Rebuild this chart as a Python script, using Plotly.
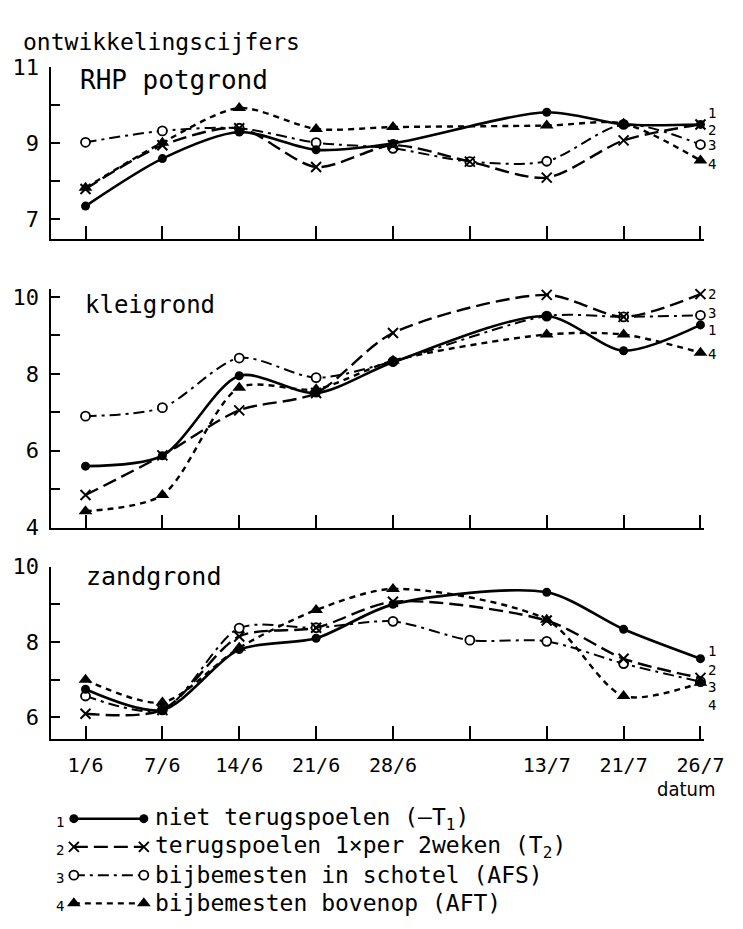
import plotly.graph_objects as go

# ---------------- data ----------------
dates = ['1/6', '7/6', '14/6', '21/6', '28/6', '', '13/7', '21/7', '26/7']
xi = list(range(len(dates)))

series_names = ['niet terugspoelen (–T<sub>1</sub>)',
                'terugspoelen 1×per 2weken (T<sub>2</sub>)',
                'bijbemesten in schotel (AFS)',
                'bijbemesten bovenop (AFT)']
series_nums = ['1', '2', '3', '4']

panel_names = ['RHP potgrond', 'kleigrond', 'zandgrond']

rhp_t1 = [7.35, 8.6, 9.3, 8.83, 9.0, None, 9.82, 9.5, 9.5]
rhp_t2 = [7.8, 8.95, 9.4, 8.38, 8.95, 8.52, 8.1, 9.08, 9.5]
rhp_afs = [9.03, 9.33, 9.4, 9.02, 8.87, 8.52, 8.53, 9.5, 8.97]
rhp_aft = [7.83, 9.02, 9.93, 9.38, 9.43, None, 9.47, 9.52, 8.55]

klei_t1 = [5.6, 5.87, 7.95, 7.5, 8.3, None, 9.5, 8.6, 9.27]
klei_t2 = [4.85, 5.88, 7.05, 7.5, 9.06, None, 10.05, 9.48, 10.07]
klei_afs = [6.9, 7.12, 8.41, 7.9, 8.32, None, 9.5, 9.48, 9.52]
klei_aft = [4.43, 4.85, 7.64, 7.6, 8.34, None, 9.02, 9.02, 8.55]

zand_t1 = [6.75, 6.2, 7.8, 8.1, 9.0, None, 9.32, 8.34, 7.56]
zand_t2 = [6.1, 6.2, 8.15, 8.38, 9.07, None, 8.57, 7.56, 7.05]
zand_afs = [6.57, 6.2, 8.37, 8.38, 8.55, 8.05, 8.02, 7.43, 6.95]
zand_aft = [7.0, 6.4, 7.85, 8.85, 9.41, None, 8.59, 6.57, 6.92]

panels = [
    [rhp_t1, rhp_t2, rhp_afs, rhp_aft],
    [klei_t1, klei_t2, klei_afs, klei_aft],
    [zand_t1, zand_t2, zand_afs, zand_aft],
]

# y-axis settings per panel
y_ranges = [[6.49, 11.0], [4.0, 10.2], [5.44, 10.0]]
y_tickvals = [[7, 8, 9, 10, 11], [4, 5, 6, 7, 8, 9, 10], [6, 7, 8, 9, 10]]
y_ticktext = [['7', '', '9', '', '11'], ['4', '', '6', '', '8', '', '10'], ['6', '', '8', '', '10']]

# end-number labels (value position next to last point)
end_label_y = [[9.8, 9.36, 8.95, 8.46], [9.14, 10.07, 9.59, 8.51], [7.76, 7.27, 6.8, 6.33]]

# ---------------- layout helpers ----------------
W, H = 743, 929
def px(x):
    return x / W
def py(y):
    return min(1.0, max(0.0, 1 - y / H))

FONT = 'DejaVu Sans Mono, Liberation Mono, monospace'
NARROW = 'Liberation Sans Narrow, DejaVu Sans Condensed, DejaVu Sans Mono, monospace'

styles = [
    dict(line=dict(color='black', width=2.6, dash='solid'),
         marker=dict(symbol='circle', size=9, color='black')),
    dict(line=dict(color='black', width=2.4, dash='14px,6px'),
         marker=dict(symbol='x-thin', size=10, color='black', line=dict(color='black', width=2))),
    dict(line=dict(color='black', width=2.0, dash='11px,5px,3px,5px'),
         marker=dict(symbol='circle', size=9, color='white', line=dict(color='black', width=1.8))),
    dict(line=dict(color='black', width=2.4, dash='6px,5px'),
         marker=dict(symbol='triangle-up', size=12, color='black')),
]

# pixel positions (top, bottom) of each panel's plotting area
panel_px = [(57, 233), (284.8, 530), (570, 746.7)]
label_px = [(80, 70), (85, 301), (86, 580)]
label_size = [26, 24, 25]

fig = go.Figure()

draw_order = [2, 1, 3, 0]
for p, pdata in enumerate(panels):
    ax = '' if p == 0 else str(p + 1)
    for s in draw_order:
        st = styles[s]
        fig.add_trace(go.Scatter(
            x=xi, y=pdata[s], mode='lines+markers',
            line=dict(st['line'], shape='spline', smoothing=0.8),
            marker=st['marker'], connectgaps=True, cliponaxis=False,
            xaxis='x' + ax, yaxis='y' + ax, showlegend=False, hoverinfo='skip'))

# legend keys on a hidden axis
key_x = [0, 1]
for s in range(4):
    st = styles[s]
    fig.add_trace(go.Scatter(
        x=key_x, y=[s, s], mode='lines+markers',
        line=st['line'], marker=st['marker'], cliponaxis=False,
        xaxis='x4', yaxis='y4', showlegend=False, hoverinfo='skip'))

layout = dict(
    width=W, height=H, margin=dict(l=0, r=0, t=0, b=0),
    paper_bgcolor='white', plot_bgcolor='white',
    font=dict(family=FONT, color='black', size=20),
    showlegend=False,
)

for p in range(3):
    ax = '' if p == 0 else str(p + 1)
    top, bot = panel_px[p]
    layout['xaxis' + ax] = dict(
        domain=[px(52), px(724)], range=[-0.455, 8.04], anchor='y' + ax,
        showline=True, linecolor='black', linewidth=2.2, mirror=False,
        ticks='inside', ticklen=13, tickwidth=2, tickcolor='black',
        tickmode='array', tickvals=xi, ticktext=dates,
        showticklabels=(p == 2), tickfont=dict(family=FONT, size=20),
        ticklabelstandoff=7, ticklabeloverflow='allow',
        showgrid=False, zeroline=False, fixedrange=True)
    layout['yaxis' + ax] = dict(
        domain=[py(bot), py(top)], range=y_ranges[p], anchor='x' + ax,
        showline=True, linecolor='black', linewidth=2.2,
        ticks='inside', ticklen=9, tickwidth=2, tickcolor='black',
        tickmode='array', tickvals=y_tickvals[p], ticktext=y_ticktext[p],
        tickfont=dict(family=FONT, size=22), ticklabelstandoff=5,
        showgrid=False, zeroline=False, fixedrange=True)

# legend key area: rows ROW_DY px apart, first row at y=ROW0 px
ROW0, ROW_DY = 829, 29
layout['xaxis4'] = dict(domain=[px(76), px(148)], range=[0, 1], anchor='y4', visible=False, fixedrange=True)
layout['yaxis4'] = dict(domain=[0, py(ROW0 - 0.5 * ROW_DY)], range=[(929 - ROW0) / ROW_DY, -0.5], anchor='x4',
                        visible=False, fixedrange=True)

annotations = []
annotations.append(dict(text='ontwikkelingscijfers', x=px(22), y=py(31), xref='paper', yref='paper',
                        xanchor='left', yanchor='middle', showarrow=False, font=dict(family=FONT, size=23)))
for p in range(3):
    lx, ly = label_px[p]
    annotations.append(dict(text=panel_names[p], x=px(lx), y=py(ly), xref='paper', yref='paper',
                            xanchor='left', yanchor='middle', showarrow=False,
                            font=dict(family=FONT, size=label_size[p])))
    ax = '' if p == 0 else str(p + 1)
    for s in range(4):
        annotations.append(dict(text=series_nums[s], x=px(727), y=end_label_y[p][s], xref='paper', yref='y' + ax,
                                xanchor='left', yanchor='middle', showarrow=False, font=dict(family=FONT, size=14)))
annotations.append(dict(text='datum', x=px(738), y=py(798), xref='paper', yref='paper',
                        xanchor='right', yanchor='middle', showarrow=False, font=dict(family=NARROW, size=20)))
for s in range(4):
    yrow = ROW0 + ROW_DY * s
    annotations.append(dict(text=series_nums[s], x=px(62), y=py(yrow + 3), xref='paper', yref='paper',
                            xanchor='center', yanchor='middle', showarrow=False, font=dict(family=FONT, size=14)))
    annotations.append(dict(text=series_names[s], x=px(157), y=py(yrow), xref='paper', yref='paper',
                            xanchor='left', yanchor='middle', showarrow=False, font=dict(family=FONT, size=23)))
layout['annotations'] = annotations

fig.update_layout(**layout)
fig.write_html('out.html')
